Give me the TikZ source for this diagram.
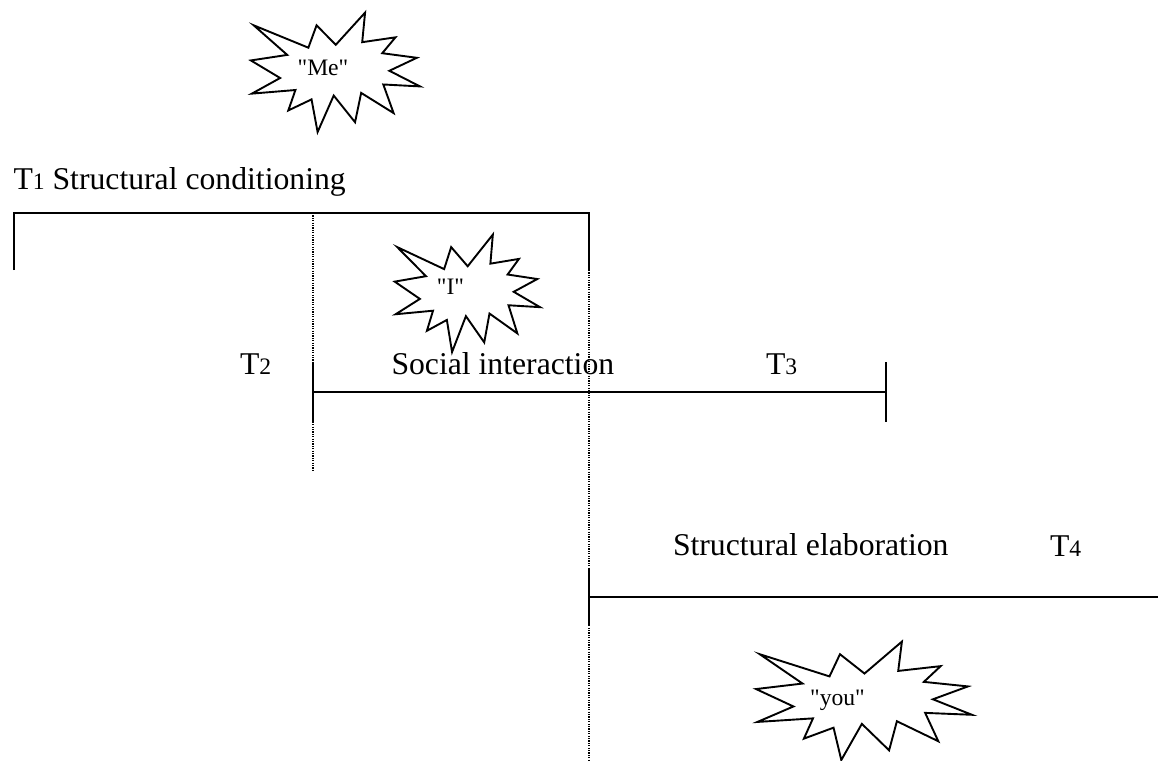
\documentclass[tikz,border=0pt]{standalone}
\usepackage{fontspec}
\setmainfont{Liberation Serif}[Ligatures=TeXOff]
\newcommand\bigtxt{\fontsize{15.85}{18}\selectfont}
\newcommand\smalltxt{\fontsize{11.8}{14}\selectfont}
\tikzset{
  solidline/.style={line width=0.95pt, line cap=butt},
  dotline/.style={line width=0.55pt, dash pattern=on 0.6pt off 0.6pt},
  sealline/.style={line width=0.95pt, line join=miter, fill=white},
  lbl/.style={inner sep=0pt, outer sep=0pt, anchor=base west, font=\bigtxt},
  seallbl/.style={inner sep=0pt, outer sep=0pt, anchor=base, font=\smalltxt},
  explosion/.pic={
    \draw[sealline] (109.01,59.05) -- (84.58,23.99) -- (74.17,64.25) -- (4.76,23.99)
      -- (47.32,77.22) -- (1.06,87.18) -- (38.28,118.80) -- (2.43,146.89)
      -- (57.72,140.41) -- (48.68,177.19) -- (78.19,157.30) -- (85.90,216.00)
      -- (106.37,150.38) -- (133.49,198.40) -- (141.25,145.61) -- (182.48,181.95)
      -- (169.38,130.44) -- (216.00,133.93) -- (177.10,105.79) -- (211.98,82.42)
      -- (168.06,74.17) -- (184.82,45.60) -- (142.57,54.29) -- (146.23,1.06) -- cycle;
  }
}
\begin{document}
\begin{tikzpicture}[x=0.5pt, y=-0.5pt]
\useasboundingbox (0,0) rectangle (1158,761);

% coordinates
\coordinate (a1) at (14,270);
\coordinate (a2) at (14,213);
\coordinate (a3) at (589,213);
\coordinate (a4) at (589,270);
\coordinate (d1) at (313,213);
\coordinate (d2) at (313,470);
\coordinate (e1) at (589,270);
\coordinate (e2) at (589,761);
\coordinate (s1) at (313,392);
\coordinate (s2) at (886,392);
\coordinate (s1t) at (313,362);
\coordinate (s1b) at (313,422);
\coordinate (s2t) at (886,362);
\coordinate (s2b) at (886,422);
\coordinate (u1) at (589,597);
\coordinate (u2) at (1158,597);
\coordinate (u1t) at (589,569);
\coordinate (u1b) at (589,625);

% dotted guides
\draw[dotline] (d1) -- (d2);
\draw[dotline] (e1) -- (e2);

% structural conditioning bracket
\draw[solidline] (a1) -- (a2) -- (a3) -- (a4);

% social interaction
\draw[solidline] (s1) -- (s2);
\draw[solidline] (s1t) -- (s1b);
\draw[solidline] (s2t) -- (s2b);

% structural elaboration
\draw[solidline] (u1) -- (u2);
\draw[solidline] (u1t) -- (u1b);

% explosions
\pic[xscale=0.787, yscale=0.5556] at (250,12) {explosion};
\pic[xscale=0.676, yscale=0.5463] at (394,234) {explosion};
\pic[xscale=1.0046, yscale=0.551] at (755,641) {explosion};

\node[seallbl] (me) at (323,75) {"Me"};
\node[seallbl] (i) at (450.5,294) {"I"};
\node[seallbl] (you) at (837.5,705) {"you"};

% labels
\node[lbl] (t1) at (13.5,189) {T{\smalltxt 1} Structural conditioning};
\node[lbl] (t2) at (240,374) {T{\smalltxt 2}};
\node[lbl] (si) at (391.5,374) {Social interaction};
\node[lbl] (t3) at (766,374) {T{\smalltxt 3}};
\node[lbl] (se) at (673,555) {Structural elaboration};
\node[lbl] (t4) at (1050,556) {T{\smalltxt 4}};
\end{tikzpicture}
\end{document}
